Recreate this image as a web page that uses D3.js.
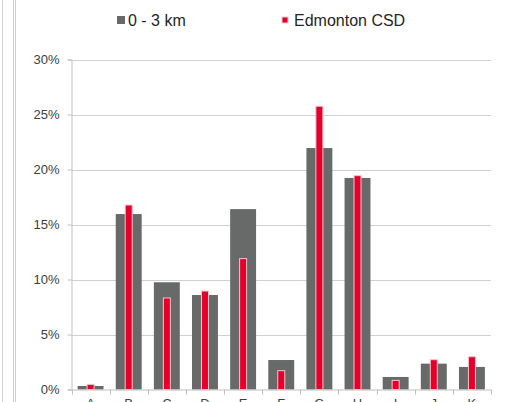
<!DOCTYPE html>
<html><head><meta charset="utf-8">
<script src="https://cdn.jsdelivr.net/npm/d3@7"></script>
<style>body{margin:0;background:#fff;}svg{display:block;font-family:"Liberation Sans",Arial,sans-serif;}</style>
</head><body>
<svg id="chart" width="511" height="402"></svg>
<script>
const categories = ["A","B","C","D","E","F","G","H","I","J","K"];
const seriesNames = ["0 - 3 km","Edmonton CSD"];
const area = [0.32,15.95,9.75,8.59,16.4,2.68,21.95,19.23,1.14,2.35,2.05];
const edmonton = [0.47,16.77,8.32,8.95,11.9,1.71,25.75,19.44,0.83,2.71,2.98];
const yTicks = [0,5,10,15,20,25,30];

const svg = d3.select("#chart");
const W = 511, H = 402;
const mLeft = 71.5, mRight = 491, mTop = 59.5, mBottom = 389.5;

// frame lines on the left
svg.append("line").attr("x1",2.5).attr("x2",2.5).attr("y1",0).attr("y2",H).attr("stroke","#d4d4d4");
svg.append("line").attr("x1",13.5).attr("x2",13.5).attr("y1",0).attr("y2",H).attr("stroke","#cfcfcf");
svg.append("line").attr("x1",15.5).attr("x2",15.5).attr("y1",0).attr("y2",H).attr("stroke","#cfcfcf");

const x = d3.scaleBand().domain(categories).range([mLeft, mRight]).paddingInner(0.32).paddingOuter(0.16);
const y = d3.scaleLinear().domain([0,30]).range([mBottom, mTop]);

// gridlines
svg.append("g").selectAll("line").data(yTicks.filter(d=>d>0)).join("line")
  .attr("x1",mLeft).attr("x2",mRight)
  .attr("y1",d=>Math.round(y(d))+0.5).attr("y2",d=>Math.round(y(d))+0.5)
  .attr("stroke","#d0d0d0").attr("stroke-width",1);

// y axis
const yAxis = d3.axisLeft(y).tickValues(yTicks).tickFormat(d=>d+"%").tickSize(4).tickPadding(8);
const gy = svg.append("g").attr("transform",`translate(${mLeft},0)`).call(yAxis);
gy.select(".domain").attr("stroke","#bfbfbf");
gy.selectAll(".tick line").attr("stroke","#bfbfbf");
gy.selectAll(".tick text").attr("fill","#404040").style("font-size","13px").style("font-family","'Liberation Sans',Arial,sans-serif");

// bars
const step = x.step();
svg.append("g").selectAll("rect").data(categories).join("rect")
  .attr("x",d=>x(d)).attr("width",x.bandwidth())
  .attr("y",(d,i)=>y(area[i])).attr("height",(d,i)=>y(0)-y(area[i]))
  .attr("fill","#686a69");
const rw = 7;
svg.append("g").selectAll("rect").data(categories).join("rect")
  .attr("x",d=>x(d)+x.bandwidth()/2-rw/2).attr("width",rw)
  .attr("y",(d,i)=>y(edmonton[i])).attr("height",(d,i)=>y(0)-y(edmonton[i]))
  .attr("fill","#e4002b").attr("stroke","#f3c6cd").attr("stroke-width",1);

// x axis
const gx = svg.append("g");
gx.append("line").attr("x1",mLeft).attr("x2",mRight).attr("y1",mBottom+0.5).attr("y2",mBottom+0.5).attr("stroke","#bfbfbf");
const bounds = categories.map(d=>x(d)-step*x.paddingInner()/2).concat([x(categories[categories.length-1])+x.bandwidth()+step*x.paddingInner()/2]);
gx.selectAll("line.t").data(bounds).join("line").attr("class","t")
  .attr("x1",d=>Math.round(d)+0.5).attr("x2",d=>Math.round(d)+0.5)
  .attr("y1",mBottom).attr("y2",mBottom+5).attr("stroke","#bfbfbf");
gx.selectAll("text").data(categories).join("text")
  .attr("x",d=>x(d)+x.bandwidth()/2).attr("y",408)
  .attr("text-anchor","middle").attr("fill","#404040").style("font-size","13px").text(d=>d);

// legend
const lg = svg.append("g");
lg.append("rect").attr("x",117).attr("y",16).attr("width",8).attr("height",8).attr("fill","#686a69");
lg.append("text").attr("x",128).attr("y",26).attr("fill","#262626").style("font-size","16px").text(seriesNames[0]);
lg.append("rect").attr("x",282).attr("y",17).attr("width",6).attr("height",6).attr("fill","#e4002b").attr("stroke","#f3c6cd").attr("stroke-width",1);
lg.append("text").attr("x",294).attr("y",26).attr("fill","#262626").style("font-size","16px").text(seriesNames[1]);
</script>
</body></html>
